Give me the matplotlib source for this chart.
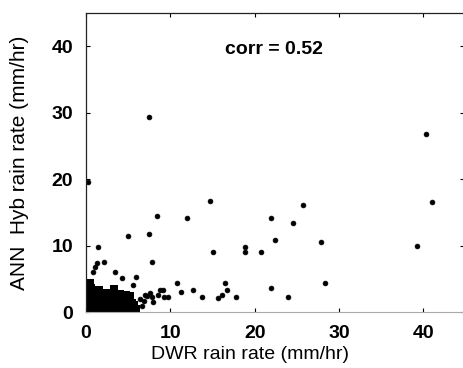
import matplotlib
matplotlib.use('Agg')
import matplotlib.pyplot as plt

# scattered points (DWR rain rate, ANN Hyb rain rate)
pts_x = [0.2, 7.5, 40.3, 41.0, 39.2,
         5.0, 7.5, 8.4, 12.0, 14.7, 15.1, 7.8,
         1.4, 2.2, 1.1, 0.8, 1.3, 3.5, 4.3, 6.0, 5.6,
         25.7, 21.9, 24.6, 22.4, 18.8, 18.9, 20.8, 27.9, 28.3, 21.9, 24.0, 17.8,
         7.8, 9.1, 9.3, 9.7, 10.8, 11.3, 12.7, 13.8, 15.6, 16.1, 16.5, 16.7,
         6.4, 6.9, 7.2, 8.0, 8.5, 6.6, 7.0, 7.6, 8.8]
pts_y = [19.5, 29.3, 26.8, 16.5, 9.9,
         11.5, 11.7, 14.5, 14.1, 16.7, 9.0, 7.6,
         9.8, 7.6, 6.8, 6.0, 7.4, 6.0, 5.1, 5.3, 4.0,
         16.1, 14.1, 13.4, 10.8, 9.8, 9.0, 9.0, 10.5, 4.4, 3.6, 2.3, 2.3,
         2.3, 3.3, 2.3, 2.2, 4.4, 3.0, 3.3, 2.3, 2.1, 2.6, 4.4, 3.3,
         2.0, 1.6, 2.4, 1.5, 2.6, 0.9, 2.6, 2.9, 3.3]

# dense cluster of low rain rates
blob_x = [0.1, 0.5, 0.9, 1.3, 1.7, 2.1, 2.5, 2.9, 3.3, 3.7, 4.1, 4.5, 4.9, 5.3, 5.7,
          0.3, 0.7, 1.1, 1.5, 1.9, 2.3, 2.7, 3.1, 3.5, 3.9, 4.3, 4.7, 5.1, 5.5, 5.9,
          0.1, 0.5, 0.9, 1.3, 1.7, 2.1, 2.5, 2.9, 3.3, 3.7, 4.1, 4.5, 4.9, 5.3, 5.7,
          0.3, 0.7, 1.1, 1.5, 1.9, 2.3, 2.7, 3.1, 3.5, 3.9, 4.3, 4.7, 5.1, 5.5,
          0.2, 0.6, 1.0, 1.4, 1.8, 2.2, 2.6, 3.0, 3.4, 3.8, 4.2, 4.6, 5.0,
          0.4, 0.5, 0.6, 1.2, 1.6, 2.0, 2.7, 3.3, 3.1, 4.0, 4.8, 5.2]
blob_y = [0.1, 0.2, 0.1, 0.2, 0.1, 0.2, 0.1, 0.2, 0.1, 0.2, 0.1, 0.2, 0.1, 0.2, 0.1,
          0.7, 0.6, 0.7, 0.6, 0.7, 0.6, 0.7, 0.6, 0.7, 0.6, 0.7, 0.6, 0.7, 0.6, 0.5,
          1.2, 1.1, 1.2, 1.1, 1.2, 1.1, 1.2, 1.1, 1.2, 1.1, 1.2, 1.1, 1.2, 1.1, 1.0,
          1.7, 1.6, 1.7, 1.6, 1.7, 1.6, 1.7, 1.6, 1.7, 1.6, 1.7, 1.6, 1.5, 1.4,
          2.2, 2.1, 2.2, 2.3, 2.1, 2.2, 2.0, 2.2, 2.3, 2.0, 2.1, 2.0, 1.9,
          3.0, 4.3, 3.6, 2.9, 3.3, 2.8, 2.9, 3.5, 2.8, 2.7, 2.5, 2.4]

corr_text = 'corr = 0.52'
ticks = [0, 10, 20, 30, 40]

plt.rcParams['font.family'] = ['Liberation Sans', 'DejaVu Sans']
fig = plt.figure(figsize=(4.64, 3.68), dpi=100)
ax = fig.add_axes([0.185, 0.152, 0.815, 0.813])

ax.scatter(blob_x, blob_y, s=30, c='black', marker='s', linewidths=0)
ax.scatter(pts_x, pts_y, s=12, c='black', marker='o', linewidths=0.5, edgecolors='black')

ax.set_xlim(0, 44.8)
ax.set_ylim(0, 45)
ax.set_xticks(ticks)
ax.set_yticks(ticks)
ax.tick_params(direction='in', length=3, labelsize=14, pad=9, width=0.8)
ax.tick_params(top=True, right=True)
for lab in ax.get_xticklabels() + ax.get_yticklabels():
    lab.set_fontweight('bold')
for side in ['left', 'top', 'right']:
    ax.spines[side].set_color('#222222')
    ax.spines[side].set_linewidth(0.9)
ax.spines['bottom'].set_color('#aaaaaa')

ax.text(0.497, 0.876, corr_text, transform=ax.transAxes, fontsize=14,
        fontweight='bold', ha='center', va='center')
ax.set_xlabel('DWR rain rate (mm/hr)', fontsize=14)
ax.set_ylabel('ANN  Hyb rain rate (mm/hr)', fontsize=15)
ax.xaxis.set_label_coords(0.434, -0.114)
ax.yaxis.set_label_coords(-0.15, 0.5)

fig.savefig('out.png', dpi=100)
